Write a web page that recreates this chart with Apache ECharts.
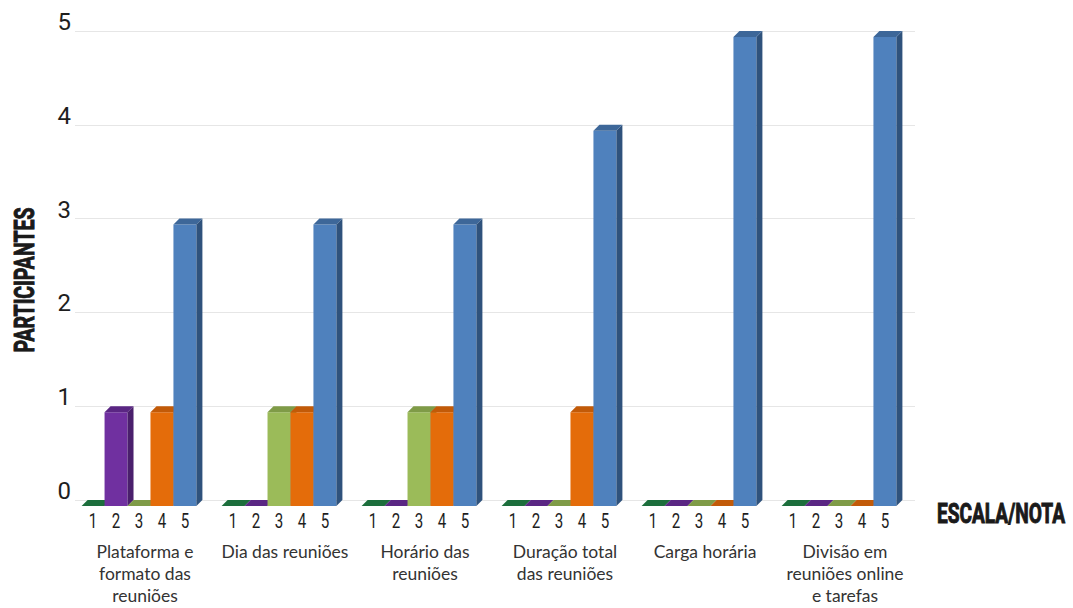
<!DOCTYPE html>
<html>
<head>
<meta charset="utf-8">
<script src="https://cdn.jsdelivr.net/npm/echarts@6/dist/echarts.min.js"></script>
<style>
html,body{margin:0;padding:0;background:#fff;}
#chart{width:1073px;height:608px;}
</style>
</head>
<body>
<div id="chart"></div>
<script>
// ---- data ----
var categories = [
  'Plataforma e\nformato das\nreuniões',
  'Dia das reuniões',
  'Horário das\nreuniões',
  'Duração total\ndas reuniões',
  'Carga horária',
  'Divisão em\nreuniões online\ne tarefas'
];
var scaleLabels = ['1', '2', '3', '4', '5'];
var nota1 = [0, 0, 0, 0, 0, 0];
var nota2 = [1, 0, 0, 0, 0, 0];
var nota3 = [0, 1, 1, 0, 0, 0];
var nota4 = [1, 1, 1, 1, 0, 0];
var nota5 = [3, 3, 3, 4, 5, 5];
var yTicks = [0, 1, 2, 3, 4, 5];
var yTitle = 'PARTICIPANTES';
var xTitle = 'ESCALA/NOTA';

// ---- style ----
var condensed = 'Roboto, "Liberation Sans", sans-serif';
var frontColors = ['#23874a', '#7030a0', '#9bbb59', '#e46c0a', '#4f81bd'];
var topColors   = ['#1c6e3c', '#5a2683', '#7f9b47', '#c25a08', '#3d6799'];
var sideColors  = ['#175a31', '#4a1f6c', '#6a823b', '#a24b06', '#2f527c'];

var seriesValues = [nota1, nota2, nota3, nota4, nota5];

var measureCtx = document.createElement('canvas').getContext('2d');
function fitScale(text, font, targetWidth) {
  measureCtx.font = font;
  var w = measureCtx.measureText(text).width;
  return w > 0 ? targetWidth / w : 1;
}

function makeRender(k) {
  return function (params, api) {
    var ci = api.value(0);
    var v = api.value(1);
    var p = api.coord([ci, v]);
    var p0 = api.coord([ci, 0]);
    var cw = api.size([1, 0])[0];
    var bw = cw * 0.164;
    var d = 6;
    var xl = p[0] - d - 2.5 * bw + k * bw;
    var xr = xl + bw;
    var yt = p[1] + d;
    var yb = p0[1] + d;
    return {
      type: 'group',
      children: [
        { type: 'rect', shape: { x: xl, y: yt, width: bw, height: Math.max(0, yb - yt) },
          style: { fill: frontColors[k] } },
        { type: 'polygon', shape: { points: [[xr, yt], [xr + d, yt - d], [xr + d, p0[1]], [xr, yb]] },
          style: { fill: sideColors[k] } },
        { type: 'polygon', shape: { points: [[xl, yt], [xl + d, yt - d], [xr + d, yt - d], [xr, yt]] },
          style: { fill: topColors[k] } },
        { type: 'text', x: xl + bw / 2, y: yb + 15, scaleX: 0.72,
          style: { text: scaleLabels[k], x: 0, y: 0,
            align: 'center', verticalAlign: 'middle', fill: '#1e1e1e',
            font: '21px ' + condensed } }
      ]
    };
  };
}

var series = seriesValues.map(function (vals, k) {
  return {
    type: 'custom',
    name: scaleLabels[k],
    renderItem: makeRender(k),
    encode: { x: 0, y: 1 },
    clip: false,
    data: vals.map(function (v, i) { return [i, v]; })
  };
});

var yTitleFont = 'bold 28px ' + condensed;
var xTitleFont = 'bold 27px ' + condensed;

var chart = echarts.init(document.getElementById('chart'), null, { renderer: 'svg' });
chart.setOption({
  animation: false,
  backgroundColor: '#fff',
  grid: { left: 75, width: 840, top: 31, bottom: 108, containLabel: false },
  xAxis: {
    type: 'category',
    data: categories,
    axisLine: { show: false },
    axisTick: { show: false },
    splitLine: { show: false },
    axisLabel: {
      interval: 0, margin: 40, lineHeight: 22, verticalAlign: 'top',
      fontFamily: 'Lato, "Noto Sans", sans-serif', fontSize: 17.5, color: '#333'
    }
  },
  yAxis: {
    type: 'value',
    min: 0, max: 5, interval: 1,
    axisLine: { show: false },
    axisTick: { show: false },
    splitLine: { lineStyle: { color: '#e6e6e6', width: 1 } },
    axisLabel: {
      margin: 4, fontFamily: condensed, fontSize: 24, color: '#1e1e1e',
      verticalAlign: 'bottom', lineHeight: 18,
      formatter: function (v) { return yTicks.indexOf(v) >= 0 ? String(v) : ''; }
    }
  },
  graphic: [
    { type: 'text', x: 25, y: 280, rotation: Math.PI / 2,
      scaleX: fitScale(yTitle, yTitleFont, 145),
      style: { text: yTitle, x: 0, y: 0, align: 'center', verticalAlign: 'middle',
        font: yTitleFont, fill: '#1a1a1a', stroke: '#1a1a1a', lineWidth: 1 } },
    { type: 'text', x: 1001, y: 514,
      scaleX: fitScale(xTitle, xTitleFont, 128),
      style: { text: xTitle, x: 0, y: 0, align: 'center', verticalAlign: 'middle',
        font: xTitleFont, fill: '#1a1a1a', stroke: '#1a1a1a', lineWidth: 1 } }
  ],
  series: series
});
</script>
</body>
</html>
